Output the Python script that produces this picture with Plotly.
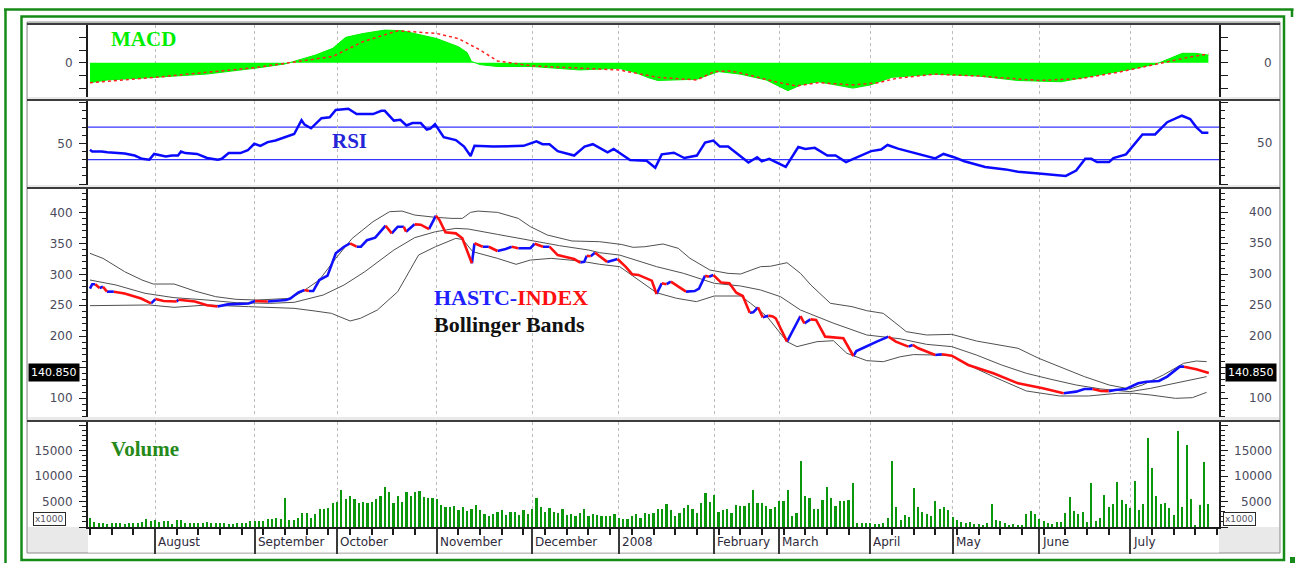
import plotly.graph_objects as go

W, H = 1295, 563

# ---------------- data (x = trading-day index) ----------------
MONTH_LABELS = ["August", "September", "October", "November", "December", "2008",
                "February", "March", "April", "May", "June", "July"]
MONTH_START_DAY = [15, 38, 57, 80, 102, 122, 144, 159, 180, 199, 219, 240]

VOLUME = [
    1800, 1000, 700, 700, 500, 800, 800, 700, 500, 700, 700, 700, 1000, 1500, 1100,
    1300, 900, 1100, 1100, 600, 1300, 1300, 700, 700, 700, 700, 700, 1000, 800, 800,
    800, 800, 500, 500, 700, 800, 800, 1100,
    1100, 1100, 1100, 1600, 1600, 1800, 1600, 5600, 1400, 1400,
    1800, 2800, 2800, 1800, 2500, 3500, 3500, 3800, 4700, 5000,
    7200, 5400, 6100, 5400, 4800, 5000, 4800, 5000, 5400, 6100,
    7800, 6800, 4700, 6100, 5000, 6800, 6100, 6800, 7000, 5800,
    5600, 5600, 5400, 4400, 4000, 4000, 4200, 3300, 3900, 3100,
    3500, 4300, 3300, 2500, 2100, 2500, 3000, 3300, 2300, 3000,
    3000, 2300, 3300, 2500, 3500, 5700, 4000, 3000, 3800, 3000,
    2800, 3500, 2300, 2500, 2100, 2800, 3500, 2100, 2500, 2300,
    2100, 2100, 2100, 2500, 1800, 1600, 1600, 2100, 2500, 1800,
    2800, 2500, 2800, 3500, 3500, 4500, 3300, 2100, 2800, 3800,
    4300, 3500, 2800, 4700, 6600, 5000, 6200, 3000, 3300, 3500,
    2800, 4400, 4200, 4200, 4700, 7300, 4700, 4700, 4200, 3500,
    4000, 5100, 5100, 7300, 2100, 2800, 13000, 6100, 5600, 3500,
    3500, 5300, 7800, 5600, 4200, 5100, 5100, 5300,
    8600, 800, 800, 800, 800, 600, 600, 800, 1700, 13000, 3900, 1300, 2400, 1900,
    7600, 3900, 2900, 2600, 2200, 5100, 3500, 3900, 3400,
    1900, 1400, 1000, 800, 1000, 500, 500, 200, 800, 4500,
    1400, 1100, 800, 400, 600, 400, 400, 2500, 3100, 2500,
    1600, 1100, 800, 600, 1000, 1000, 2800, 5900, 3200, 2500,
    3000, 1000, 8700, 1200, 1800, 6300, 4000, 4600, 8900, 5300,
    4600, 3700, 9000, 3300, 4500, 17500, 11500, 6000, 4500, 4700,
    3800, 2300, 18900, 4000, 16000, 5400, 300, 4400, 12800, 4500,
]

PRICE_POINTS = [
    (0, 277), (0.5, 284), (1.2, 284), (2.2, 278), (3, 280), (3.9, 272), (5.5, 272),
    (8, 269), (11.8, 261), (14.1, 253), (15.1, 260), (17, 257), (20, 256), (20.4, 259),
    (24.2, 256), (27, 250), (29.4, 248), (31.8, 251.5), (36.6, 253), (38.1, 257),
    (41, 256), (45.2, 258.5), (46.2, 261), (48.1, 271), (49.5, 274.7), (50.5, 273),
    (51.5, 273), (52.9, 290.8), (54.8, 297.8), (56.7, 333.8), (58.6, 344.5), (60, 349.9),
    (61.5, 344.5), (62.5, 344.5), (63.9, 355), (65.8, 359), (68.2, 378.4), (69.6, 366),
    (71, 376.8), (72.4, 376.8), (72.9, 368.7), (74.9, 380.6), (76.3, 380), (78.2, 373),
    (79.8, 394.5), (80.6, 387.6), (82, 367.7), (84.4, 366), (85.9, 358), (88.1, 317.7),
    (88.7, 350), (90.6, 344.5), (92, 344.5), (94, 337.6), (95.9, 340.8), (97.3, 344.5),
    (98.8, 342), (101.6, 342), (102.6, 349.4), (104.5, 344.5), (106, 344.5),
    (107.9, 331), (111.7, 324.6), (113.1, 319), (114, 320), (114.6, 330), (115.5, 329),
    (116.5, 334.9), (117.9, 326.8), (119.3, 320), (120.8, 323), (121.7, 324.6),
    (123.6, 312), (125.1, 300), (126.5, 299), (129.6, 289.7), (130.7, 268.2),
    (131.9, 285.5), (133, 284), (134, 288.2), (136.7, 274.7), (137.5, 272), (139.5, 273),
    (140.5, 277), (141.9, 297.8), (142.8, 296), (143.8, 298.8), (145.6, 286.6),
    (147.5, 285.5), (149.1, 270.3), (150.6, 265), (152.2, 238.1), (153, 238.6),
    (154.1, 246.8), (155.2, 230.6), (156.5, 233.3), (157.5, 232), (158.2, 229),
    (160.8, 191.3), (163.9, 232.7), (164.8, 220.9), (166.2, 227.3), (167.5, 226.3),
    (169.6, 199.4), (171.5, 198.4), (173.8, 196.8), (176.1, 168.2), (176.8, 176.2),
    (178.2, 180.6), (180.1, 187), (181.5, 191.3), (184.2, 199.4), (185.9, 191.3),
    (188.8, 183.3), (189.8, 186), (191.1, 180.6), (195, 169.8), (196.5, 170.9),
    (198.8, 168.7), (202.6, 153.7), (208.4, 140.3), (214.1, 124.1), (219.8, 116.1),
    (224.6, 108), (227.5, 110.7), (229.4, 115), (231.3, 115), (233.2, 111.8),
    (235, 111.5), (236.5, 113.4), (239, 115), (241.8, 124.1), (243.7, 126.8),
    (246.6, 127.9), (248.5, 134.9), (251.4, 151), (252.4, 151), (255.2, 146.7),
    (258.1, 140.85),
]

BB_UPPER = [
    (0, 333.8), (3, 325.7), (8, 304.2), (12, 290.8), (14.6, 284.3), (19.4, 284.3),
    (24.2, 273), (29, 263.9), (33.7, 259.6), (38.5, 258.5), (46.2, 261.2), (49, 272),
    (52.9, 290.8), (56.7, 325.7), (60.5, 358), (65.3, 384.9), (69.1, 401), (72, 402),
    (74.9, 395.6), (79.7, 391.9), (83.5, 390.2), (85.9, 390.2), (87.8, 399.9),
    (89.5, 402), (94, 399.9), (98.8, 390.2), (101.6, 376.8), (105.5, 363.4),
    (111.2, 353.7), (117.6, 352.6), (122.7, 348), (125.3, 343.5), (128, 344.5),
    (132.2, 348.9), (135.7, 341.9), (138.4, 325.8), (143, 306.9), (147.2, 301.5),
    (150.1, 300.5), (154.7, 312.3), (157, 313), (160.8, 318.7), (163.9, 301.6),
    (166.3, 282.7), (170.8, 253.2), (175.8, 247.8), (179.2, 241.3), (183, 237),
    (186.9, 215.5), (188.3, 207.5), (193, 202.1), (198.8, 203.1), (204.5, 192.4),
    (209.3, 186), (214.1, 180.6), (218.9, 164.4), (223.7, 151), (229.4, 134.9),
    (235.1, 121.4), (239.9, 115), (242.8, 121.4), (247.6, 137.6), (252.3, 156.4),
    (255.2, 160.1), (257.6, 159.1),
]
BB_MIDDLE = [
    (0, 290.8), (6, 282.7), (12.7, 269.3), (19.4, 262.3), (27, 258.5), (33.7, 254.2),
    (41.4, 253.1), (47.1, 254.8), (53.8, 266.6), (58.6, 282.7), (63.4, 304.2),
    (70.1, 339.2), (74.9, 359.1), (79.7, 368.7), (84.4, 374.1), (87.3, 373),
    (94, 364.4), (100.7, 355.3), (108.3, 346.2), (115, 339.2), (117.6, 334.8),
    (122.2, 331), (130.7, 312.3), (136.9, 301.6), (144, 285.5), (150.1, 281.1),
    (154.7, 274.7), (159.3, 263.9), (163.9, 242.4), (171.6, 220.9), (179.2, 202.1),
    (186.9, 196), (193, 187), (198.8, 183.3), (204.5, 169.8), (210.3, 153.7),
    (216, 140.3), (221.7, 130.6), (227.5, 121.4), (233.2, 115), (239.9, 110.7),
    (244.7, 116.1), (250.4, 124.1), (257.6, 134.9),
]
BB_LOWER = [
    (0, 249.4), (7.9, 249.4), (13.7, 250.5), (19.4, 246.7), (27, 250.5), (36.6, 247.8),
    (47.1, 245.1), (51.9, 240.8), (55.7, 237), (60, 224.7), (62.4, 229), (66.3, 242.4),
    (71, 272), (75.8, 331.1), (79.7, 344.5), (84.4, 358), (86, 356), (88.3, 336.5),
    (94, 325.7), (98.3, 316.1), (101.6, 323), (106.4, 325.7), (113.1, 321.4),
    (117.6, 316.1), (122.2, 312.3), (130.7, 270.3), (135.3, 261.3), (139.9, 255.9),
    (144, 265), (150.1, 265), (152.4, 253.2), (156.2, 231.7), (160.8, 191.3),
    (163.1, 183.3), (167.7, 191.3), (171.5, 192.9), (174.6, 172.6), (179.2, 160.7),
    (183, 159), (186.9, 167), (190, 170.5), (195, 169.8), (198.8, 168.7),
    (202.6, 153.7), (208.4, 134.9), (216, 111.8), (223.7, 103.7), (230.3, 103.7),
    (237, 108), (240.9, 108), (244.7, 105.3), (250.4, 99.9), (254.3, 101),
    (257.6, 109.6),
]

RSI_POINTS = [
    (0, 42), (0.5, 40), (2.7, 40), (4, 39), (8, 37.5), (10.3, 35), (12, 31), (13.7, 30),
    (14.8, 37), (16, 36), (17.5, 34), (18.9, 35), (20.3, 35), (21, 40), (22, 38),
    (24.7, 37), (26, 34.5), (27, 32), (29.5, 30), (30.4, 31), (32, 38), (34.7, 38),
    (36.4, 41.5), (37.9, 49.5), (39.3, 47), (41, 51.5), (42.8, 53.5), (45.2, 57.5),
    (47.1, 61.5), (48.8, 78.5), (49.5, 73), (51, 68.5), (53.4, 81), (55.3, 82),
    (56.7, 91), (59.6, 92.5), (61.5, 86), (65.3, 86), (67.2, 90), (68, 90), (70.1, 78),
    (71.6, 79), (73, 72), (74.4, 75), (76.3, 75), (77.7, 67), (78.5, 68), (79.6, 73.5),
    (81.6, 57.5), (84.4, 54), (86.3, 46), (87.8, 34.5), (88.7, 47), (93, 46),
    (96.9, 47), (100, 47), (103, 52.5), (104.4, 49), (106, 49), (107.9, 40.5),
    (111.7, 35), (114.1, 46), (116, 49), (119.4, 39), (120.8, 43), (124.6, 29.5),
    (128.4, 28.5), (130.4, 20), (131.9, 36.5), (134.7, 38.5), (137.1, 32), (140, 35),
    (141.9, 51), (143.8, 53.5), (145.3, 46), (147.2, 46), (151.9, 26.5), (153.9, 33),
    (155, 28), (156.7, 31), (160.5, 21), (163.4, 45.5), (165, 43), (167.2, 44.5),
    (170.1, 35), (172, 35), (174.4, 27), (176.8, 32.5), (180.2, 40.5), (182.5, 42.5),
    (184, 48), (186.4, 43.5), (189.2, 39.5), (191.1, 37), (195, 31.5), (196.9, 37),
    (199.3, 33), (201.7, 28), (206.5, 21), (211.2, 18), (214.1, 15), (218.9, 13),
    (222.7, 11), (225.1, 10), (227.5, 16.5), (229.6, 31), (231, 31), (232.3, 27),
    (235.1, 27), (236.1, 32), (239, 36.5), (242.8, 61), (245.7, 61), (248.5, 76),
    (251.9, 84), (253.8, 80), (255.2, 70), (256.6, 63), (258, 63),
]
RSI_LEVELS = [70, 30]

MACD_POINTS = [
    (0, -15.7), (4, -13.6), (15, -11.5), (27, -8.9), (38, -4.4), (45, -1), (48, 2),
    (52, 6), (56, 11.3), (59, 20), (63, 23), (68, 25.7), (72, 25.2), (75, 23), (80, 19),
    (85, 12.6), (87, 8), (88, 1), (90, -1.5), (94, -3), (102, -3), (113, -5.7),
    (122, -4.4), (126, -8), (129, -12), (131, -14), (140, -13), (145, -7), (150, -9),
    (156, -13.6), (161, -22), (164, -17.5), (168, -15), (176, -20), (180, -17.5),
    (185, -11.5), (195, -9), (205, -10.5), (214, -14), (224, -15), (233, -9.7),
    (240, -5.2), (246, -1), (249, 3.5), (252, 7.4), (255, 7.4), (258, 6),
]
SIGNAL_POINTS = [
    (0, -15.7), (15, -11.5), (38, -3.9), (46, 0), (56, 4.9), (63, 16.6), (71, 25.2),
    (80, 23), (85, 19), (90, 10), (94, 1.4), (102, -2.5), (113, -4.4), (122, -5.7),
    (131, -11.5), (140, -13.6), (144, -7), (148, -6.5), (152, -9.7), (159, -15.7),
    (163, -18.3), (168, -15.7), (176, -17.5), (182, -15.7), (186, -12.3), (195, -9),
    (205, -10.5), (214, -13), (219, -14), (229, -12.3), (238, -7), (247, -0.4),
    (253, 4), (258, 7),
]

# ---------------- helpers ----------------
def X(px):
    return px / W


def Y(py):
    return 1 - py / H


def unzip(points):
    return [p[0] for p in points], [p[1] for p in points]


shapes = []


def rect(x0, y0, x1, y1, fill="rgba(0,0,0,0)", line="rgba(0,0,0,0)", lw=0):
    shapes.append(dict(type="rect", xref="paper", yref="paper", x0=X(x0), x1=X(x1),
                       y0=Y(y1), y1=Y(y0), fillcolor=fill,
                       line=dict(color=line, width=lw), layer="below"))


def seg(x0, y0, x1, y1, color, lw):
    shapes.append(dict(type="line", xref="paper", yref="paper", x0=X(x0), x1=X(x1),
                       y0=Y(y0), y1=Y(y1), line=dict(color=color, width=lw), layer="below"))


GREEN = "#168a16"
# outer double green frame
seg(4, 9.5, 1293.5, 9.5, GREEN, 2.5)
seg(5.5, 9, 5.5, 563, GREEN, 2.5)
seg(1292, 9, 1292, 17, GREEN, 2.5)
rect(1290, 557, 1295, 563, fill=GREEN)
rect(21.5, 16.5, 1284, 560, line=GREEN, lw=2.5)

# panel frame
rect(27, 22, 1280, 553, fill="#e9e9e9", line="#8a8a8a", lw=1)
PANELS = [(25, 97), (101, 185), (189, 417), (422, 527)]
for top, bot in PANELS:
    rect(28, top, 1279, bot, fill="white")
    seg(27, top - 1, 1280, top - 1, "#3c3c3c", 2)
rect(88, 527, 1219, 552.5, fill="white")

# ---------------- figure ----------------
fig = go.Figure()

# MACD
mx, my = unzip(MACD_POINTS)
fig.add_trace(go.Scatter(x=mx, y=my, mode="lines", fill="tozeroy", fillcolor="#00ff00",
                         line=dict(color="#00f000", width=1), xaxis="x", yaxis="y",
                         hoverinfo="skip"))
sx, sy = unzip(SIGNAL_POINTS)
fig.add_trace(go.Scatter(x=sx, y=sy, mode="lines",
                         line=dict(color="#ff2020", width=1.5, dash="dot"),
                         xaxis="x", yaxis="y", hoverinfo="skip"))

# RSI
for lvl in RSI_LEVELS:
    shapes.append(dict(type="line", xref="x2 domain", yref="y2", x0=0, x1=1, y0=lvl, y1=lvl,
                       line=dict(color="#3434ff", width=1.2), layer="below"))
rx_, ry_ = unzip(RSI_POINTS)
fig.add_trace(go.Scatter(x=rx_, y=ry_, mode="lines", line=dict(color="#0a0aff", width=2.5),
                         xaxis="x2", yaxis="y2", hoverinfo="skip"))

# Bollinger bands
for band in (BB_UPPER, BB_MIDDLE, BB_LOWER):
    bxs, bys = unzip(band)
    fig.add_trace(go.Scatter(x=bxs, y=bys, mode="lines", line=dict(color="#505050", width=1),
                             xaxis="x3", yaxis="y3", hoverinfo="skip"))

# price: blue when rising, red when falling
pdays, pvals = unzip(PRICE_POINTS)
runs = {"#1010ff": ([], []), "#ff1010": ([], [])}
prev_color = None
for i in range(len(pvals) - 1):
    color = "#1010ff" if pvals[i + 1] >= pvals[i] else "#ff1010"
    xs, ys = runs[color]
    if color != prev_color:
        if xs:
            xs.append(None)
            ys.append(None)
        xs += [pdays[i], pdays[i + 1]]
        ys += [pvals[i], pvals[i + 1]]
    else:
        xs.append(pdays[i + 1])
        ys.append(pvals[i + 1])
    prev_color = color
for color, (xs, ys) in runs.items():
    fig.add_trace(go.Scatter(x=xs, y=ys, mode="lines", line=dict(color=color, width=2.6),
                             connectgaps=False, xaxis="x3", yaxis="y3", hoverinfo="skip"))

# Volume
fig.add_trace(go.Bar(x=list(range(len(VOLUME))), y=VOLUME, width=0.5,
                     marker=dict(color="#0b970b", line=dict(width=0)),
                     xaxis="x4", yaxis="y4", hoverinfo="skip"))

# ---------------- axes ----------------
XRANGE = [-0.46, 260.5]
xdom = [X(88), X(1219.2)]
TICKFONT = dict(family="DejaVu Sans", size=12, color="#4a4a5c")
AXC = "#1c1c1c"

def xaxis(anchor, bottom=False):
    d = dict(domain=xdom, range=XRANGE, anchor=anchor, tickmode="array",
             tickvals=MONTH_START_DAY, showticklabels=False, showgrid=True,
             gridcolor="#bdbdbd", griddash="3px,3px", gridwidth=1, zeroline=False,
             fixedrange=True)
    if bottom:
        d.update(showline=True, linecolor=AXC, linewidth=2, ticks="outside", ticklen=25,
                 tickcolor="#3a3a3a", tickwidth=1.5,
                 minor=dict(ticks="outside", ticklen=6, tickcolor=AXC, tickwidth=1.5,
                            dtick=5, tick0=0, showgrid=False))
    else:
        d.update(showline=False, ticks="")
    return d


def yaxis(anchor, top, bot, rng, vals, texts, minor_dtick):
    return dict(domain=[Y(bot), Y(top)], range=rng, anchor=anchor, tickmode="array",
                tickvals=vals, ticktext=texts, ticks="outside", ticklen=7, tickwidth=1.3,
                tickcolor=AXC, showline=True, linecolor=AXC, linewidth=2, mirror="ticks",
                showgrid=False, zeroline=False, tickfont=TICKFONT, ticklabelstandoff=4,
                minor=dict(ticks="outside", ticklen=4, tickcolor=AXC, tickwidth=1,
                           dtick=minor_dtick, showgrid=False),
                fixedrange=True)


MACD_TICKS = [-20, -10, 0, 10, 20]
MACD_TEXT = ["", "", "0", "", ""]
RSI_TICKS = [0, 50, 100]
RSI_TEXT = ["", "50", ""]
PRICE_TICKS = [100, 150, 200, 250, 300, 350, 400]
PRICE_TEXT = ["100", "", "200", "250", "300", "350", "400"]
VOL_TICKS = [0, 5000, 10000, 15000, 20000]
VOL_TEXT = ["", "5000", "10000", "15000", ""]

fig.update_layout(
    width=W, height=H, autosize=False, margin=dict(l=0, r=0, t=0, b=0, pad=0),
    paper_bgcolor="white", plot_bgcolor="rgba(0,0,0,0)", showlegend=False,
    bargap=0,
    xaxis=xaxis("y"), xaxis2=xaxis("y2"), xaxis3=xaxis("y3"), xaxis4=xaxis("y4", True),
    yaxis=yaxis("x", 25, 97, [-27, 29.7], MACD_TICKS, MACD_TEXT, None),
    yaxis2=yaxis("x2", 101, 185, [-1.2, 102.1], RSI_TICKS, RSI_TEXT, 10),
    yaxis3=yaxis("x3", 189, 417, [69.8, 437.6], PRICE_TICKS, PRICE_TEXT, 10),
    yaxis4=yaxis("x4", 422, 527, [0, 20588], VOL_TICKS, VOL_TEXT, 1000),
    shapes=shapes,
)
fig.layout.yaxis.minor = dict(ticks="")

# ---------------- annotations ----------------
ann = []
# right-side tick labels (right aligned like the original)
for ax, vals, texts in (("y", MACD_TICKS, MACD_TEXT), ("y2", RSI_TICKS, RSI_TEXT),
                        ("y3", PRICE_TICKS, PRICE_TEXT), ("y4", VOL_TICKS, VOL_TEXT)):
    for v, t in zip(vals, texts):
        if t:
            ann.append(dict(xref="paper", yref=ax, x=X(1274), y=v, text=t, xanchor="right",
                            yanchor="middle", showarrow=False, font=TICKFONT))

# month labels
for d, lab in zip(MONTH_START_DAY, MONTH_LABELS):
    ann.append(dict(xref="x4", yref="paper", x=d, y=Y(541.5), text=lab, xanchor="left",
                    yanchor="middle", xshift=1, showarrow=False,
                    font=dict(family="DejaVu Sans", size=12, color="#2e2a3c")))

# last price boxes
last = f"{pvals[-1]:.3f}"
for xpx, anchor in ((80, "right"), (1225, "left")):
    ann.append(dict(xref="paper", yref="y3", x=X(xpx), y=pvals[-1], text=last,
                    xanchor=anchor, yanchor="middle", showarrow=False, bgcolor="black",
                    borderpad=2, font=dict(family="DejaVu Sans", size=11, color="white")))

# x1000 boxes
for xpx in (32.5, 1223):
    ann.append(dict(xref="paper", yref="paper", x=X(xpx), y=Y(519), text="x1000",
                    xanchor="left", yanchor="middle", showarrow=False, bgcolor="white",
                    bordercolor="#2a2a2a", borderwidth=1, borderpad=1,
                    font=dict(family="DejaVu Sans", size=9, color="#555566")))

SERIF = "Liberation Serif"
ann.append(dict(xref="paper", yref="paper", x=X(109), y=Y(39), text="<b>MACD</b>",
                xanchor="left", yanchor="middle", showarrow=False,
                font=dict(family=SERIF, size=21, color="#00ee00")))
ann.append(dict(xref="paper", yref="paper", x=X(349), y=Y(141), text="<b>RSI</b>",
                xanchor="center", yanchor="middle", showarrow=False,
                font=dict(family=SERIF, size=21, color="#2424d8")))
ann.append(dict(xref="paper", yref="paper", x=X(432), y=Y(297),
                text='<b><span style="color:#2020ff">HASTC-</span>'
                     '<span style="color:#ff1010">INDEX</span></b>',
                xanchor="left", yanchor="middle", showarrow=False,
                font=dict(family=SERIF, size=22, color="#2020ff")))
ann.append(dict(xref="paper", yref="paper", x=X(432), y=Y(324), text="<b>Bollinger Bands</b>",
                xanchor="left", yanchor="middle", showarrow=False,
                font=dict(family=SERIF, size=22, color="#111111")))
ann.append(dict(xref="paper", yref="paper", x=X(109), y=Y(449), text="<b>Volume</b>",
                xanchor="left", yanchor="middle", showarrow=False,
                font=dict(family=SERIF, size=21, color="#268a1a")))

fig.update_layout(annotations=ann)

fig.write_html("out.html", config={"displayModeBar": False},
               post_script="document.body.style.margin='0';document.body.style.overflow='hidden';")
